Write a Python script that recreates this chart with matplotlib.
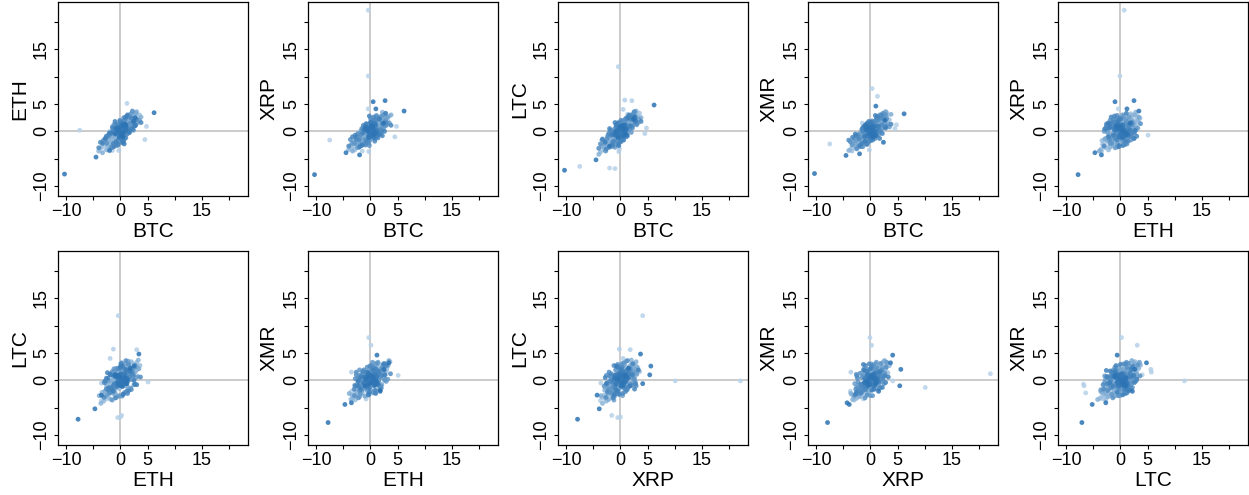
"""Pairwise scatter of daily crypto returns, R base-graphics look."""
import matplotlib
matplotlib.use('Agg')
import matplotlib.pyplot as plt
from matplotlib.colors import LinearSegmentedColormap
import numpy as np

plt.rcParams['font.family'] = ['Liberation Sans', 'DejaVu Sans']

# daily returns (%), one entry per day
BTC = [
    -0.4, -0.4, -0.4, 0.3, 1.3, -7.5, -2.0, -1.0, 1.2, 4.5, 4.8, 2.1, 0.8, 0.5, -1.5, -0.3, -0.2,
    0.3, -0.8, 1.2, -0.2, 2.1, -1.5, 0.6, -2.4, 1.7, -0.5,
    0.9, -1.1, 2.8, -3.1, 0.1, 1.4, -1.9, 0.4, 3.2, -0.7,
    1.0, -2.2, 0.2, 2.5, -1.3, 0.7, -0.3, 1.9, -2.7, 0.0,
    -0.9, 1.3, 3.5, -1.7, 0.5, 2.3, -0.4, -3.4, 1.1, -1.0,
    0.8, -0.6, 2.0, -2.0, 0.3, 1.6, -1.4, 2.7, -0.1, -2.9,
    0.6, -0.4, 1.5, -1.2, 2.4, -2.5, 0.9, -0.2, 3.0, -1.6,
    0.2, 1.8, -0.8, -3.7, 1.1, -0.1, 2.6, -1.8, 0.4, -1.1,
    1.4, -0.6, 0.7, -2.3, 2.2, -0.3, 1.0, -1.5, 0.1, -4.0,
    0.5, 1.9, -0.9, 2.9, -2.1, 0.0, 1.2, -1.3, 0.8, -0.5,
    2.0, -2.6, 0.3, -0.7, 1.6, -1.2, 3.8, -0.2, 1.3, -3.3,
    0.6, -1.4, 2.2, -0.4, 0.9, -2.0, 0.1, 1.7, -0.8, 2.6,
    -1.6, 0.4, 1.1, -0.3, 2.8, -2.8, 0.7, -1.0, 1.5, 0.0,
    0.3, -0.8, 1.2, -0.2, 2.1, -1.5, 0.6, -2.4, 1.7, -0.5,
    0.9, -1.1, 2.8, -3.1, 0.1, 1.4, -1.9, 0.4, 3.2, -0.7,
    1.0, -2.2, 0.2, 2.5, -1.3, 0.7, -0.3, 1.9, -2.7, 0.0,
    -0.9, 1.3, 3.5, -1.7, 0.5, 2.3, -0.4, -3.4, 1.1, -1.0,
    0.8, -0.6, 2.0, -2.0, 0.3, 1.6, -1.4, 2.7, -0.1, -2.9,
    0.6, -0.4, 1.5, -1.2, 2.4, -2.5, 0.9, -0.2, 3.0, -1.6,
    0.2, 1.8, -0.8, -3.7, 1.1, -0.1, 2.6, -1.8, 0.4, -1.1,
    1.4, -0.6, 0.7, -2.3, 2.2, -0.3, 1.0, -1.5, 0.1, -4.0,
    0.5, 1.9, -0.9, 2.9, -2.1, 0.0, 1.2, -1.3, 0.8, -0.5,
    2.0, -2.6, 0.3, -0.7, 1.6, -1.2, 3.8, -0.2, 1.3, -3.3,
    0.6, -1.4, 2.2, -0.4, 0.9, -2.0, 0.1, 1.7, -0.8, 2.6,
    -1.6, 0.4, 1.1, -0.3, 2.8, -2.8, 0.7, -1.0, 1.5, 0.0,
    0.2, -0.3, 0.5, -0.6, 0.1, 0.8, -0.1, 0.4, -0.9, 0.6,
    -0.4, 0.0, 1.0, -0.2, 0.3, -0.7, 0.9, -0.5, 0.2, 0.7,
    -1.0, 0.4, -0.3, 0.6, 1.1, -0.8, 0.1, 0.5, -0.4, 0.3,
    -2.0, -4.5, 2.7, 0.5, 1.0, 2.4, 6.2, -10.3,
]
ETH = [
    0.7, -0.1, -0.4, -0.3, 0.1, 0.2, 0.0, -0.5, 5.1, -1.5, 0.9, 3.0, -1.3, -1.9, -3.5, -3.5, -0.8,
    0.5, -1.1, 1.5, 0.1, 2.4, -1.8, 0.2, -2.9, 1.1, -0.9,
    1.8, -0.4, 2.2, -2.5, -0.3, 2.0, -2.3, 1.0, 2.7, -1.6,
    0.4, -1.4, 0.9, 3.1, -0.7, 1.3, -0.6, 1.4, -3.3, 0.3,
    -0.2, 0.7, 3.0, -2.6, -0.1, 1.6, 0.6, -2.8, 2.3, -1.3,
    0.0, -0.3, 2.9, -1.2, -0.7, 1.2, -2.1, 1.9, 0.7, -2.2,
    1.4, -1.4, 0.6, -0.1, 1.3, -3.4, 0.5, -0.5, 3.6, -0.9,
    -0.4, 2.6, -0.2, -3.1, 0.3, 1.2, 2.0, -1.5, 0.8, -2.0,
    1.9, 0.4, -0.6, -2.7, 2.8, -1.2, 0.9, -0.5, 0.6, -3.6,
    1.1, 0.8, -1.7, 3.3, -1.9, -0.9, 1.6, -1.0, 0.1, 0.2,
    1.0, -2.0, 1.6, -0.8, 2.5, -2.4, 2.6, 0.4, 0.2, -3.9,
    -0.2, -0.6, 1.8, -1.9, 2.1, -1.0, -0.1, 2.4, 0.1, 1.5,
    -2.9, 0.0, 1.7, 0.8, 3.4, -1.7, 0.3, -0.4, 1.0, -1.3,
    1.4, 0.3, 0.2, -1.5, 0.9, -0.2, 2.1, -1.0, 2.8, -2.0,
    -0.6, -2.3, 1.3, -1.6, 1.2, 2.9, -0.5, -0.9, 1.6, 0.6,
    2.2, -0.7, -1.1, 1.4, -2.4, -0.5, 0.9, 3.2, -1.5, -0.8,
    0.8, -0.4, 2.0, -3.0, 1.8, 0.4, -1.7, -1.9, 2.6, 0.3,
    -1.2, 1.0, 0.6, -0.3, -2.0, 2.7, -2.9, 1.1, 1.9, -1.6,
    2.5, -1.5, -0.3, 1.2, 0.2, -2.2, -0.7, 0.4, 2.2, -2.8,
    -1.9, 1.5, 1.1, -2.0, -0.6, 2.0, 1.0, -0.4, -2.1, -2.6,
    0.2, -2.6, 1.9, -0.8, 3.7, 0.9, -1.2, 0.8, -0.3, -3.0,
    -0.9, 0.5, 0.6, 2.1, -0.6, 1.7, -0.1, -2.2, 1.4, 1.3,
    2.4, -0.9, -1.4, 0.9, 0.1, -2.8, 1.6, -1.1, 3.0, -2.2,
    -1.7, 0.5, 0.4, -2.4, 2.5, -0.3, 1.5, -0.2, -1.9, 1.0,
    -0.2, -1.8, 2.7, 0.5, 1.1, -1.3, -2.3, 1.8, 0.0, -0.5,
    -0.4, 0.5, 0.8, -0.1, 0.9, 0.3, -0.8, 1.2, -0.5, -0.3,
    0.2, 0.7, 0.4, -1.1, 1.0, -0.2, 0.1, 0.6, -0.7, 1.3,
    -0.4, -0.9, 0.3, 0.0, 0.8, 0.5, -0.6, 1.1, 0.4, -0.2,
    -3.5, -4.7, 2.5, -1.0, 1.2, 1.8, 3.4, -7.8,
]
XRP = [
    22.1, 10.1, 4.1, -0.1, 0.2, -1.6, 0.0, -0.5, -0.7, -1.0, 0.9, 1.8, -0.2, 0.5, -3.6, -3.7, -1.3,
    0.2, -0.6, 0.9, -0.4, 1.6, -1.2, 0.8, -2.1, 1.3, 0.3,
    0.5, -1.5, 2.5, -2.8, 0.0, 1.9, -1.0, 1.2, 1.9, -0.9,
    0.6, -1.8, -0.3, 2.2, -1.9, 0.4, -0.8, 2.7, -2.4, 0.6,
    -1.2, 1.0, 2.8, -1.4, 0.9, 1.8, -0.2, -3.0, 1.4, -0.3,
    1.5, -1.1, 1.2, -2.6, 0.1, 2.3, -0.7, 3.2, 0.4, -3.4,
    0.0, -0.5, 1.7, -0.9, 1.1, -1.7, 2.1, -1.4, 2.4, -2.2,
    0.7, 1.0, -0.1, -2.6, 0.2, 0.8, 2.9, -2.5, -0.6, -1.6,
    0.3, -0.2, 1.1, -1.3, 3.5, 0.5, 1.8, -1.8, -0.9, -3.3,
    0.1, 1.5, -0.4, 2.0, -2.9, 0.3, 2.6, -0.6, -0.2, -1.3,
    0.8, -2.0, 1.0, 0.9, 1.6, -1.7, 3.0, 0.2, 0.7, -3.6,
    0.5, -2.3, 1.3, -0.7, 2.0, -1.1, -0.5, 0.6, 0.0, 2.1,
    -1.4, 1.4, -0.1, -0.9, 2.6, -2.2, 0.3, -0.4, 2.2, -0.8,
    -0.9, -1.8, 2.2, 0.8, 0.3, 0.4, -0.7, -3.0, 0.2, 1.1,
    1.9, 0.2, 1.0, -1.9, -1.2, 0.5, -2.4, 1.8, 2.6, -2.0,
    -0.5, -2.9, 1.4, 1.1, -0.2, 2.0, -1.5, 0.6, -1.2, 2.4,
    -2.1, 2.3, 1.5, 0.0, -0.9, 3.0, 0.9, -2.2, -0.3, -1.4,
    1.6, -2.0, 2.7, -1.1, 0.8, 0.1, 0.4, 1.9, -1.6, -2.2,
    -1.3, 0.9, 2.5, -2.3, 0.6, -1.0, 1.8, -2.6, 1.2, 0.5,
    2.0, -0.5, -1.9, -1.5, 2.9, -0.8, 1.3, -0.6, 0.7, 0.9,
    -1.2, 1.3, -0.4, -0.4, 1.4, -2.1, 2.1, -2.4, 1.6, -2.7,
    1.0, 0.2, -2.5, 1.6, -1.6, -0.9, 0.3, 1.1, -1.8, 0.4,
    -0.2, -1.4, 1.7, -1.7, 2.3, 0.4, 1.1, 2.8, -0.9, -1.0,
    2.6, -0.3, -0.8, 0.6, -1.3, -2.8, -0.5, 2.2, 1.4, 0.0,
    -2.6, 0.7, 0.2, -1.1, 3.3, -0.7, 1.5, 0.3, -0.6, 1.7,
    0.6, -0.7, 0.1, 0.4, -0.5, 1.0, 0.3, -0.2, 0.8, -1.0,
    0.5, -0.4, 1.2, 0.2, -0.8, 0.7, -0.3, 0.0, 1.1, -0.6,
    0.4, 0.9, -1.1, 0.3, -0.2, 0.6, 0.8, -0.5, 0.1, 1.0,
    -4.3, -3.9, 5.6, 5.4, 4.1, 1.5, 3.7, -7.9,
]
LTC = [
    -0.1, -0.1, 11.8, 0.2, 3.1, -6.4, -6.7, -6.8, -0.3, -0.4, 0.6, 5.6, 5.7, 4.0, -0.5, -3.7, -3.2,
    0.4, -0.9, 1.4, -0.3, 2.2, -2.0, 0.5, -2.6, 1.9, -0.7,
    1.1, -1.3, 3.1, -3.4, 0.2, 0.8, -1.7, 0.9, 2.8, -0.2,
    1.6, -2.4, 0.5, 2.0, -1.1, 0.2, -0.5, 1.7, -2.9, -0.1,
    -1.5, 1.2, 3.3, -1.2, 0.8, 2.6, -0.8, -2.7, 0.9, -1.9,
    0.6, 0.1, 2.4, -1.6, 0.9, 1.0, -1.0, 2.3, -0.6, -3.1,
    0.3, -0.9, 2.1, -0.6, 1.8, -2.2, 1.3, 0.4, 2.7, -2.5,
    -0.4, 1.5, -1.4, -3.8, 0.6, 0.3, 3.4, -1.3, 1.0, -0.4,
    1.8, -1.1, 0.0, -3.0, 1.6, -0.2, 2.4, -0.8, 0.7, -4.2,
    -0.2, 1.3, -1.6, 3.7, -1.8, -0.6, 0.4, -2.1, 1.2, 0.0,
    2.9, -2.3, 0.1, -0.5, 2.2, -1.5, 2.5, -1.0, 0.6, -2.8,
    1.0, -0.9, 1.1, -0.1, 1.7, -2.7, 0.3, 1.4, -0.4, 3.0,
    -2.0, -0.5, 1.9, 0.6, 2.1, -3.5, 1.5, -0.3, 0.7, 0.5,
    1.1, 0.6, -0.4, -1.2, 3.0, -2.8, 1.9, -1.1, 0.5, -1.8,
    2.0, -0.1, 1.6, -2.2, -1.1, 2.5, -0.8, -0.6, 1.5, 0.9,
    0.1, -1.0, 1.7, 3.5, -2.6, -0.9, 0.8, 0.7, -3.6, 1.3,
    -0.2, 0.3, 2.2, -0.4, 1.9, 1.1, -2.1, -1.6, 2.4, -2.9,
    2.1, 0.9, -0.2, -2.9, -1.3, 2.8, -0.3, 1.4, -1.4, -1.8,
    -0.8, 1.6, 0.3, -1.9, 3.2, -1.4, 2.2, 0.9, 1.2, -0.5,
    1.2, 2.9, 0.7, -2.3, -1.0, -1.7, 3.6, 0.2, -1.5, 0.4,
    2.7, -1.6, 1.2, -0.7, 0.6, 1.5, -0.9, -2.2, 2.0, -3.1,
    -1.3, 2.2, -0.5, 1.6, -0.3, 0.6, 2.3, -1.8, -0.1, -2.4,
    0.9, -3.2, -1.1, 1.2, 3.0, -0.1, 1.8, -0.6, -0.8, -1.4,
    -1.6, -2.5, 2.6, 1.4, 0.0, 0.5, -1.9, 1.0, 1.1, 2.0,
    -0.6, 1.0, -0.7, -2.6, 1.9, -2.0, 0.4, 1.6, 2.5, -1.0,
    -0.5, 0.2, 1.1, -0.9, 0.4, -0.2, 0.7, 0.0, -0.4, 0.9,
    -1.0, 0.5, 0.3, 0.8, -0.6, 0.1, 1.2, -0.3, 0.6, 0.2,
    -0.7, 1.0, 0.4, -0.8, 0.5, -0.1, 0.9, 0.3, -1.1, 0.7,
    -2.7, -5.2, 2.6, 1.0, -0.6, 2.2, 4.8, -7.1,
]
XMR = [
    1.2, -1.3, -0.1, 7.8, 6.4, -2.3, -1.0, -0.7, 0.9, 0.5, 1.2, 2.0, 1.5, 1.0, 1.5, -2.0, -3.4,
    0.1, -1.2, 1.1, 0.2, 1.8, -1.4, 0.9, -2.2, 2.2, -0.4,
    0.6, -0.8, 2.6, -2.9, -0.2, 1.5, -2.5, 0.3, 3.0, -1.0,
    0.8, -1.6, 0.7, 2.4, -1.8, 1.4, 0.4, 1.2, -3.1, 0.0,
    -0.6, 1.9, 2.1, -2.0, -0.3, 2.9, -0.1, -3.6, 1.0, -0.9,
    0.4, -1.5, 1.6, -1.1, 0.6, 2.5, -1.7, 1.4, 0.9, -2.6,
    1.2, 0.3, 0.9, -2.1, 2.0, -2.7, 0.2, -0.7, 3.4, -0.8,
    1.3, 1.1, -0.5, -3.3, 1.7, -0.6, 2.3, -2.4, -0.1, -1.3,
    1.6, 0.8, 0.5, -1.9, 2.7, -1.1, 0.0, -1.0, 0.4, -3.5,
    0.7, 2.6, -0.2, 2.8, -2.8, 0.5, 1.3, -1.4, 1.8, -0.9,
    1.5, -3.0, -0.5, -1.6, 0.9, -0.7, 3.1, 0.6, 2.2, -2.4,
    -0.4, -1.9, 1.9, 0.1, 1.0, -1.3, 1.0, 2.0, -1.8, 1.2,
    -0.9, 0.2, 0.7, -0.3, 3.6, -2.1, 0.0, -2.3, 1.6, -0.6,
    -1.0, -2.1, 2.3, 1.2, 0.4, 0.1, -0.8, -2.9, 3.0, 0.9,
    -0.3, 0.4, 3.1, -1.7, 1.0, -0.2, -1.2, 1.5, 1.4, -2.3,
    2.0, -0.6, -0.9, 3.3, 0.5, 1.6, -1.8, 0.2, -1.7, 0.7,
    -1.9, 0.9, 0.8, -2.8, 1.7, 3.3, 0.6, -2.5, 0.0, 0.8,
    -0.5, -2.4, 1.1, -0.4, 1.9, 0.2, -2.8, 3.1, 0.5, -1.2,
    1.8, -0.3, -0.6, -0.3, 2.8, -3.2, -1.3, 1.1, 2.3, 0.3,
    0.6, -0.1, 1.3, -1.9, 2.4, -1.4, 0.8, -2.7, -0.9, 1.0,
    2.1, 1.5, -1.1, -0.9, 1.2, -1.9, 1.9, 0.4, -1.5, -1.6,
    1.4, 2.4, 0.8, 0.9, -1.4, -1.7, 2.6, 0.0, -0.7, -0.6,
    3.0, -0.8, 1.6, -2.3, 0.2, -1.0, 1.3, -0.4, 2.7, -1.1,
    0.8, 0.7, -0.4, -1.0, 2.9, -2.6, 1.7, -1.3, 0.4, 2.1,
    -2.2, -1.6, 1.0, 1.8, 0.6, -0.5, -0.2, -1.8, 0.9, 1.5,
    0.9, -0.2, -0.6, 0.5, 1.1, -0.4, 0.2, 0.7, -0.9, 0.3,
    0.8, -1.0, 0.1, 0.6, -0.3, 1.2, -0.5, 0.4, 0.0, -0.7,
    1.0, 0.2, -0.4, 0.9, -0.8, 0.3, 0.5, -0.1, 0.7, -0.6,
    -4.1, -4.4, 2.0, -1.0, 4.6, -2.0, 3.2, -7.7,
]

returns = {'BTC': BTC, 'ETH': ETH, 'XRP': XRP, 'LTC': LTC, 'XMR': XMR}
pairs = [('BTC', 'ETH'), ('BTC', 'XRP'), ('BTC', 'LTC'), ('BTC', 'XMR'), ('ETH', 'XRP'),
         ('ETH', 'LTC'), ('ETH', 'XMR'), ('XRP', 'LTC'), ('XRP', 'XMR'), ('LTC', 'XMR')]

tick_pos = [-10, -5, 0, 5, 10, 15, 20]
tick_lab = ['\u221210', '', '0', '5', '', '15', '']

# colour ramp over the time index (early = light, late = dark)
ramp = LinearSegmentedColormap.from_list('ramp', ['#b9d3ea', '#2a72b3'])
n = len(BTC)
colors = ramp(np.linspace(0, 1, n))
colors[:, 3] = 0.85

W, H = 1249, 495
fig = plt.figure(figsize=(W / 100, H / 100), dpi=100)

for k, (xn, yn) in enumerate(pairs):
    row, col = divmod(k, 5)
    left = 58 + col * 250
    top = 2 + row * 249
    ax = fig.add_axes([left / W, 1 - (top + 194) / H, 190 / W, 194 / H])

    ax.axhline(0, color='#bdbdbd', lw=1.1, zorder=1)
    ax.axvline(0, color='#bdbdbd', lw=1.1, zorder=1)
    ax.scatter(returns[xn], returns[yn], s=12, c=colors, linewidths=0, zorder=2)

    ax.set_xlim(-11.5, 23.5)
    ax.set_ylim(-11.8, 23.6)
    ax.set_xticks(tick_pos)
    ax.set_xticklabels(tick_lab)
    ax.set_yticks(tick_pos)
    ax.set_yticklabels(tick_lab, rotation=90, va='center')
    ax.tick_params(direction='out', length=3.2, width=0.8, labelsize=13, pad=1.5)
    ax.tick_params(axis='y', pad=2.5)
    for sp in ax.spines.values():
        sp.set_linewidth(0.9)

    ax.set_xlabel(xn, fontsize=15, labelpad=2)
    ax.set_ylabel(yn, fontsize=15, labelpad=3)

fig.savefig('out.png', dpi=100)
plt.close(fig)
